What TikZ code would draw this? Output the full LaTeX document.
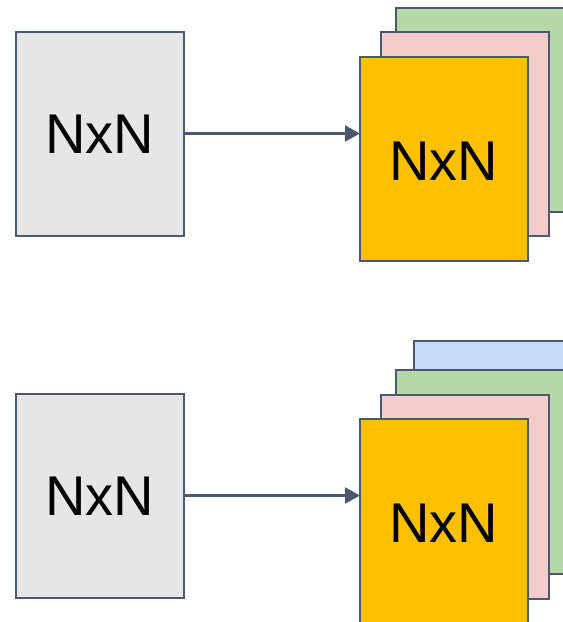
\documentclass[tikz,border=0pt]{standalone}
\usepackage{fontspec}
\setmainfont{Liberation Sans}
\usetikzlibrary{arrows.meta}
\definecolor{edge}{HTML}{4A5870}
\definecolor{grayfill}{HTML}{E6E6E6}
\definecolor{orangefill}{HTML}{FFC000}
\definecolor{pinkfill}{HTML}{F4CCCC}
\definecolor{greenfill}{HTML}{B6D7A8}
\definecolor{bluefill}{HTML}{C9DAF8}
\tikzset{
  plane/.style={draw=edge, line width=1.6pt, anchor=north west,
    minimum width=168pt, minimum height=204pt, inner sep=0pt, outer sep=0pt},
  label/.style={font=\fontsize{56}{60}\selectfont},
  link/.style={draw=edge, line width=2.2pt, -{Triangle[length=15pt,width=16pt]}}
}
\begin{document}
\begin{tikzpicture}[x=1pt,y=-1pt]
  \useasboundingbox (0,0) rectangle (563,622);
  \clip (0,0) rectangle (563,622);

  % upper row: one matrix expanded into three channels
  \node[plane, fill=grayfill] (srcA) at (16,32) {};
  \node[label] at (srcA.center) {NxN};
  \node[plane, fill=greenfill] (gA) at (396,8) {};
  \node[plane, fill=pinkfill] (pA) at (381,32) {};
  \node[plane, fill=orangefill] (oA) at (360,57) {};
  \node[label] at ([yshift=-2pt]oA.center) {NxN};
  \draw[link] (srcA.east |- 0,133.5) -- (oA.west |- 0,133.5);

  % lower row: one matrix expanded into four channels
  \node[plane, fill=grayfill] (srcB) at (16,394) {};
  \node[label] at (srcB.center) {NxN};
  \node[plane, fill=bluefill] (bB) at (414,341) {};
  \node[plane, fill=greenfill] (gB) at (396,370) {};
  \node[plane, fill=pinkfill] (pB) at (381,395) {};
  \node[plane, fill=orangefill] (oB) at (360,419) {};
  \node[label] at ([yshift=-2pt]oB.center) {NxN};
  \draw[link] (srcB.east |- 0,495.5) -- (oB.west |- 0,495.5);
\end{tikzpicture}
\end{document}
